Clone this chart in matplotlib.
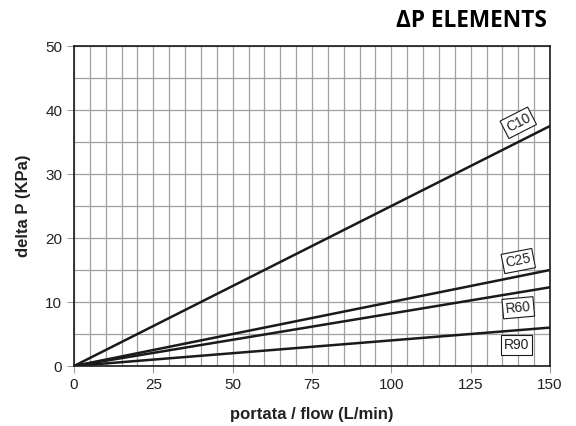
import matplotlib
matplotlib.use("Agg")
import matplotlib.pyplot as plt
import numpy as np

# flow range and pressure drop at max flow
flow = [0, 150]
curve_names = ["C10", "C25", "R60", "R90"]
dp_at_150 = [37.5, 15.0, 12.3, 6.0]
label_pos = [(140, 38.0), (140, 16.4), (140, 9.1), (139.5, 3.3)]
label_rot = [27, 11, 5, 0]

plt.rcParams['font.family'] = ['Liberation Sans', 'DejaVu Sans']

fig = plt.figure(figsize=(5.76, 4.26), dpi=100)
ax = fig.add_axes([74 / 576, 60 / 426, 476 / 576, 320 / 426])

for name, dp in zip(curve_names, dp_at_150):
    ax.plot(flow, [0, dp], color="#1a1a1a", lw=1.8, zorder=3, solid_capstyle="butt")

for name, (x, y), rot in zip(curve_names, label_pos, label_rot):
    ax.text(x, y, name, fontsize=10, rotation=rot, ha="center", va="center", zorder=4,
            color="#222222",
            bbox=dict(boxstyle="square,pad=0.2", fc="white", ec="#1a1a1a", lw=0.8))

ax.set_xlim(0, 150)
ax.set_ylim(0, 50)
ax.set_xticks(np.arange(0, 151, 25))
ax.set_yticks(np.arange(0, 51, 10))
ax.set_xticks(np.arange(0, 151, 5), minor=True)
ax.set_yticks(np.arange(0, 51, 5), minor=True)
ax.grid(which="both", color="#a0a0a0", lw=0.9, zorder=0)
ax.tick_params(which="major", length=5, color="#a0a0a0", labelsize=11, labelcolor="#222222")
ax.tick_params(which="minor", length=0)
for s in ax.spines.values():
    s.set_color("#1a1a1a")
    s.set_linewidth(1.2)

ax.set_xlabel("portata / flow (L/min)", fontsize=12, fontweight="bold", labelpad=11, color="#222222")
ax.set_ylabel("delta P (KPa)", fontsize=12, fontweight="bold", labelpad=10, color="#222222")

fig.text(547 / 576, 1 - 21 / 426, "ΔP ELEMENTS", ha="right", va="center",
         fontsize=16.3, fontweight="bold", family=["Open Sans", "DejaVu Sans"])

fig.savefig("out.png", dpi=100)
